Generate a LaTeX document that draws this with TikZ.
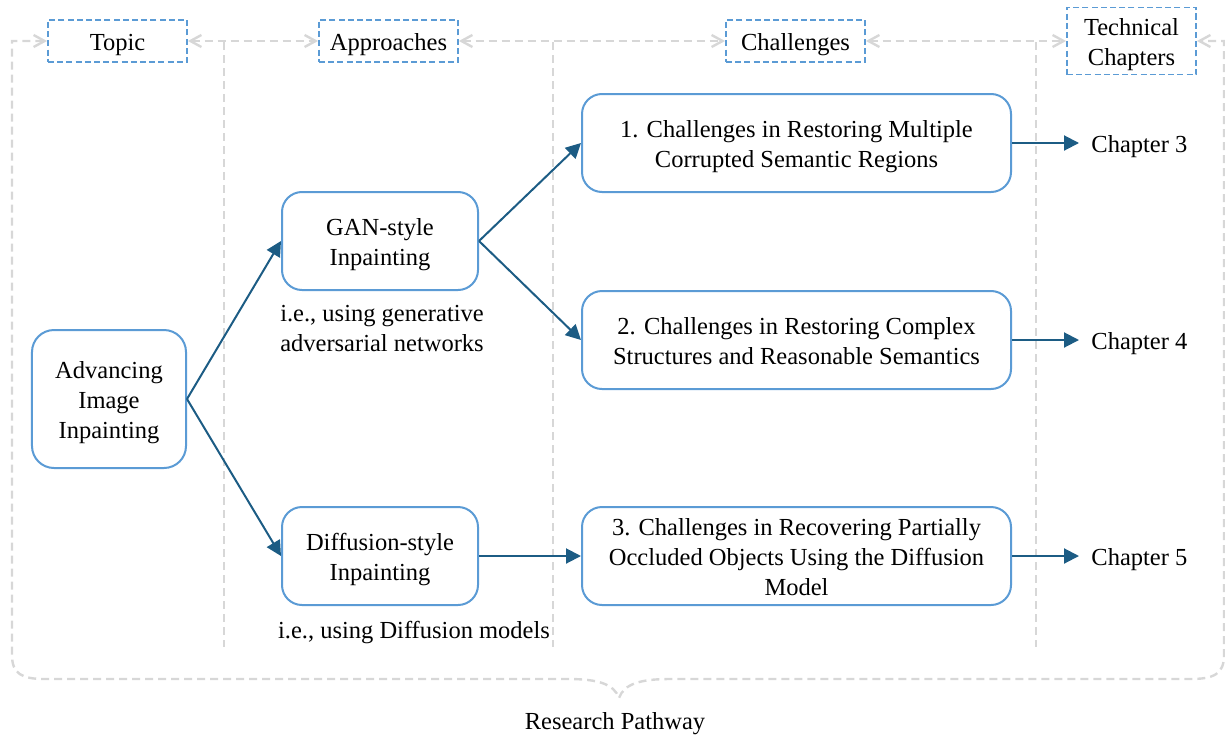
\documentclass[tikz,border=0pt]{standalone}
\usepackage{fontspec}
\setmainfont{Liberation Serif}
\usetikzlibrary{arrows.meta}
\definecolor{boxblue}{RGB}{91,155,213}
\definecolor{flowblue}{RGB}{28,92,132}
\definecolor{guide}{RGB}{215,215,215}

\begin{document}
\begin{tikzpicture}[x=0.5bp,y=-0.5bp,
  every node/.style={font=\fontsize{12.3}{15.2}\selectfont, inner sep=0pt, align=center,
    text height=12.5bp, text depth=3.2bp},
  twolines/.style={text height=27.7bp},
  threelines/.style={text height=42.9bp},
  header/.style={draw=boxblue, line width=0.9bp, dash pattern=on 3bp off 1.6bp,
    minimum width=69.5bp, minimum height=21bp},
  stage/.style={draw=boxblue, line width=1bp, rounded corners=10bp,
    minimum width=98bp, minimum height=49bp},
  issue/.style={stage, minimum width=214.5bp},
  chapter/.style={anchor=west, inner xsep=6bp},
  guideline/.style={draw=guide, line width=1.2bp, dash pattern=on 4bp off 2.5bp},
  guidetip/.style={guideline, {Straight Barb[length=5.5bp,width=6bp,line width=1.2bp]}-{Straight Barb[length=5.5bp,width=6bp,line width=1.2bp]}},
  flow/.style={draw=flowblue, line width=1bp, -{Triangle[length=7.5bp,width=7.5bp]}}
]
\useasboundingbox (0,0) rectangle (1225,734);

% column headers
\node[header] (topic) at (117.5,41) {Topic};
\node[header] (appr) at (388.5,41) {Approaches};
\node[header] (chal) at (795.5,41) {Challenges};
\node[header, twolines, minimum width=64.5bp, minimum height=33.5bp] (tech) at (1131.5,41) {Technical\\Chapters};

% column separators
\coordinate (s1t) at (224,42);  \coordinate (s1b) at (224,647);
\coordinate (s2t) at (553,42);  \coordinate (s2b) at (553,647);
\coordinate (s3t) at (1036,42); \coordinate (s3b) at (1036,647);
\path[guideline] (s1t) -- (s1b);
\path[guideline] (s2t) -- (s2b);
\path[guideline] (s3t) -- (s3b);

% links between headers
\path[guidetip] (topic.east) -- (appr.west);
\path[guidetip] (appr.east) -- (chal.west);
\path[guidetip] (chal.east) -- (tech.west);

% outer frame closing in a brace
\coordinate (tip) at (619,698);
\path[guidetip] (topic.west) -- (12,41) -- (12,655)
  .. controls (12,674) and (22,679) .. (45,679) -- (568,679)
  .. controls (598,679) and (614,684) .. (tip)
  .. controls (624,684) and (640,679) .. (670,679) -- (1190,679)
  .. controls (1214,679) and (1224,674) .. (1224,655) -- (1224,41) -- (tech.east);
\node (path) at (615,720) {Research Pathway};

% main flow
\node[stage, threelines, minimum width=77bp, minimum height=69bp, rounded corners=11bp] (topicbox) at (109,399) {Advancing\\Image\\Inpainting};
\node[stage, twolines] (gan) at (380,241) {GAN-style\\Inpainting};
\node[stage, twolines] (diff) at (380,556) {Diffusion-style\\Inpainting};
\node[twolines] (gannote) at (382,327) {i.e., using generative\\adversarial networks};
\node (diffnote) at (414,629) {i.e., using Diffusion models};

\node[issue, twolines] (c1) at (796.5,143) {1. Challenges in Restoring Multiple\\Corrupted Semantic Regions};
\node[issue, twolines] (c2) at (796.5,340) {2. Challenges in Restoring Complex\\Structures and Reasonable Semantics};
\node[issue, threelines] (c3) at (796.5,556) {3. Challenges in Recovering Partially\\Occluded Objects Using the Diffusion\\Model};

\node[chapter] (ch3) at (1079,143) {Chapter 3};
\node[chapter] (ch4) at (1079,340) {Chapter 4};
\node[chapter] (ch5) at (1079,556) {Chapter 5};

\draw[flow] (topicbox.east) -- (gan.west);
\draw[flow] (topicbox.east) -- (diff.west);
\draw[flow] (gan.east) -- (c1.west);
\draw[flow] (gan.east) -- (c2.west);
\draw[flow] (diff.east) -- (c3.west);
\draw[flow] (c1.east) -- (ch3.west);
\draw[flow] (c2.east) -- (ch4.west);
\draw[flow] (c3.east) -- (ch5.west);
\end{tikzpicture}
\end{document}
